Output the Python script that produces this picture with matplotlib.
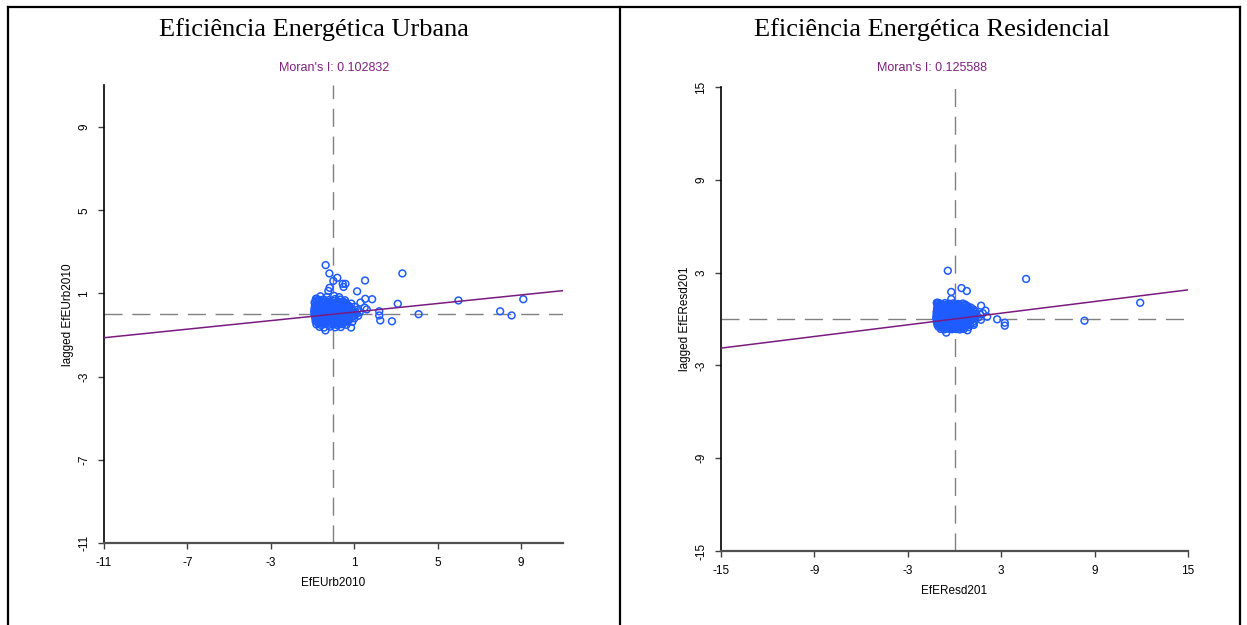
import matplotlib
matplotlib.use("Agg")
import matplotlib.pyplot as plt
from matplotlib.lines import Line2D

# ---- data ----
titles = ["Eficiência Energética Urbana", "Eficiência Energética Residencial"]
var_names = ["EfEUrb2010", "EfEResd201"]
moran_i = [0.102832, 0.125588]

urb_ticks = [-11, -7, -3, 1, 5, 9]
resd_ticks = [-15, -9, -3, 3, 9, 15]

# urban: dense cluster near the origin, row by row
urb_x = [-0.62, -0.31, 0.04, 0.28,
         -0.84, -0.68, -0.47, -0.21, 0.08, 0.33, 0.56,
         -0.78, -0.58, -0.4, -0.2, 0.02, 0.25, 0.48,
         -0.9, -0.66, -0.51, -0.29, -0.1, 0.16, 0.41, 0.61, 0.86,
         -0.8, -0.62, -0.45, -0.28, -0.09, 0.1, 0.3, 0.48, 0.66,
         -0.88, -0.73, -0.54, -0.37, -0.19, 0.01, 0.21, 0.39, 0.56, 0.76, 1.02,
         -0.83, -0.67, -0.5, -0.33, -0.15, 0.03, 0.22, 0.4, 0.58, 0.78,
         -0.91, -0.76, -0.59, -0.43, -0.24, -0.07, 0.13, 0.31, 0.49, 0.66, 0.91, 1.16,
         -0.85, -0.69, -0.52, -0.35, -0.18, -0.01, 0.16, 0.33, 0.5, 0.7, 0.95,
         -0.92, -0.77, -0.61, -0.45, -0.27, -0.11, 0.06, 0.23, 0.41, 0.58, 0.81, 1.04, 1.26,
         -0.84, -0.68, -0.53, -0.36, -0.19, 0.0, 0.18, 0.36, 0.55, 0.75, 1.1,
         -0.9, -0.74, -0.56, -0.39, -0.23, -0.04, 0.14, 0.33, 0.51, 0.71, 0.96, 1.19,
         -0.82, -0.64, -0.47, -0.3, -0.12, 0.06, 0.24, 0.44, 0.64, 0.88,
         -0.87, -0.71, -0.53, -0.34, -0.17, 0.01, 0.19, 0.37, 0.56, 0.79, 1.01,
         -0.78, -0.6, -0.42, -0.24, -0.05, 0.15, 0.33, 0.53, 0.76,
         -0.85, -0.67, -0.47, -0.29, -0.11, 0.07, 0.26, 0.46, 0.66, 0.91,
         -0.74, -0.53, -0.35, -0.15, 0.05, 0.25, 0.5,
         -0.81, -0.59, -0.41, -0.21, 0.01, 0.21, 0.43, 0.63,
         -0.66, -0.44, -0.16, 0.09, 0.36,
         # scattered points
         -0.37, -0.19, 0.19, 0.0, 0.45, 0.58, 0.49, 1.52, 3.31, 1.14, 1.53, 1.86,
         1.3, 3.09, 6.0, 9.11, 2.2, 2.2, 2.25, 2.81, 4.09, 8.0, 8.55, 1.5, 1.6,
         0.85, -0.38, -0.18, -0.24, -0.82, -0.82]
urb_y = [0.86, 0.83, 0.88, 0.82,
         0.72, 0.69, 0.71, 0.68, 0.73, 0.70, 0.67,
         0.63, 0.61, 0.62, 0.6, 0.64, 0.61, 0.6,
         0.56, 0.53, 0.57, 0.54, 0.55, 0.52, 0.57, 0.54, 0.51,
         0.48, 0.46, 0.47, 0.45, 0.49, 0.46, 0.47, 0.45, 0.46,
         0.41, 0.38, 0.42, 0.39, 0.4, 0.37, 0.42, 0.38, 0.41, 0.39, 0.36,
         0.33, 0.31, 0.32, 0.3, 0.34, 0.31, 0.32, 0.3, 0.33, 0.31,
         0.26, 0.23, 0.27, 0.24, 0.25, 0.22, 0.27, 0.24, 0.26, 0.23, 0.25, 0.21,
         0.18, 0.16, 0.17, 0.15, 0.19, 0.16, 0.17, 0.15, 0.18, 0.16, 0.17,
         0.11, 0.08, 0.12, 0.09, 0.1, 0.07, 0.12, 0.09, 0.11, 0.08, 0.1, 0.07, 0.09,
         0.03, 0.01, 0.02, 0.0, 0.04, 0.01, 0.02, 0.0, 0.03, 0.01, 0.02,
         -0.04, -0.07, -0.03, -0.06, -0.05, -0.08, -0.03, -0.06, -0.04, -0.07, -0.05, -0.08,
         -0.12, -0.14, -0.13, -0.15, -0.11, -0.14, -0.13, -0.15, -0.12, -0.14,
         -0.19, -0.22, -0.18, -0.21, -0.2, -0.23, -0.18, -0.21, -0.19, -0.22, -0.2,
         -0.27, -0.29, -0.28, -0.3, -0.26, -0.29, -0.28, -0.3, -0.27,
         -0.34, -0.37, -0.33, -0.36, -0.35, -0.38, -0.33, -0.36, -0.34, -0.37,
         -0.42, -0.44, -0.43, -0.45, -0.41, -0.44, -0.43,
         -0.49, -0.52, -0.48, -0.51, -0.5, -0.53, -0.48, -0.51,
         -0.61, -0.64, -0.6, -0.63, -0.62,
         2.36, 1.96, 1.75, 1.6, 1.46, 1.46, 1.31, 1.62, 1.96, 1.1, 0.74, 0.72,
         0.56, 0.5, 0.66, 0.72, 0.14, -0.06, -0.3, -0.34, 0.0, 0.14, -0.06, 0.32, 0.23,
         -0.64, -0.78, 1.27, 1.12, 0.75, 0.64]

# residential
resd_x = [-1.05, -0.88, -0.61, -0.34, -0.09, 0.21, 0.54,
          -0.98, -0.75, -0.52, -0.2, 0.05, 0.35, 0.7,
          -1.1, -0.86, -0.64, -0.44, -0.26, -0.04, 0.16, 0.36, 0.61, 0.84,
          -1.0, -0.8, -0.6, -0.4, -0.2, 0.0, 0.22, 0.45, 0.75, 1.05,
          -1.12, -0.94, -0.76, -0.54, -0.36, -0.14, 0.06, 0.26, 0.46, 0.71, 0.96, 1.21,
          -1.05, -0.86, -0.66, -0.46, -0.26, -0.06, 0.14, 0.34, 0.55, 0.8, 1.05, 1.28,
          -1.15, -0.97, -0.79, -0.57, -0.39, -0.17, 0.03, 0.23, 0.41, 0.63, 0.86, 1.11, 1.36,
          -1.06, -0.86, -0.66, -0.46, -0.26, -0.06, 0.14, 0.34, 0.55, 0.77, 1.02, 1.28,
          -1.16, -0.96, -0.74, -0.56, -0.34, -0.16, 0.06, 0.24, 0.46, 0.66, 0.89, 1.16, 1.41,
          -1.08, -0.88, -0.68, -0.48, -0.28, -0.08, 0.12, 0.32, 0.52, 0.72, 0.95, 1.2,
          -1.18, -0.99, -0.81, -0.59, -0.41, -0.21, 0.01, 0.19, 0.41, 0.61, 0.83, 1.06, 1.31,
          -1.06, -0.86, -0.66, -0.46, -0.26, -0.06, 0.14, 0.34, 0.55, 0.78, 1.1,
          -1.14, -0.94, -0.76, -0.54, -0.36, -0.14, 0.04, 0.26, 0.44, 0.69, 0.93, 1.19,
          -1.02, -0.82, -0.62, -0.42, -0.22, -0.02, 0.18, 0.38, 0.62, 0.88,
          -1.11, -0.93, -0.71, -0.53, -0.31, -0.13, 0.09, 0.27, 0.51, 0.74, 1.01, 1.24,
          -0.95, -0.74, -0.52, -0.32, -0.1, 0.1, 0.32, 0.55, 0.8,
          -1.04, -0.86, -0.61, -0.43, -0.21, 0.01, 0.19, 0.43, 0.64, 0.91,
          -0.75, -0.52, -0.28, -0.05, 0.22, 0.48,
          -0.89, -0.66, -0.39, -0.16, 0.11, 0.34, 0.61,
          # scattered points
          -0.43, 4.6, 0.45, 0.79, -0.21, 11.93, 8.35, 2.74, 3.23, 3.23, 1.71, 1.99,
          1.82, 2.1, 0.83, -0.53, -1.14, -0.21, -1.07, -0.9, 1.65, 1.55, 1.7, 1.24]
resd_y = [1.02, 0.98, 1.03, 0.99, 1.01, 0.97, 1.0,
          0.94, 0.92, 0.93, 0.91, 0.95, 0.92, 0.93,
          0.86, 0.83, 0.87, 0.84, 0.85, 0.82, 0.87, 0.84, 0.86, 0.83,
          0.76, 0.74, 0.75, 0.73, 0.77, 0.74, 0.75, 0.73, 0.76, 0.74,
          0.66, 0.63, 0.67, 0.64, 0.65, 0.62, 0.67, 0.64, 0.66, 0.63, 0.65, 0.62,
          0.56, 0.54, 0.55, 0.53, 0.57, 0.54, 0.55, 0.53, 0.56, 0.54, 0.55, 0.53,
          0.46, 0.43, 0.47, 0.44, 0.45, 0.42, 0.47, 0.44, 0.46, 0.43, 0.45, 0.42, 0.44,
          0.36, 0.34, 0.35, 0.33, 0.37, 0.34, 0.35, 0.33, 0.36, 0.34, 0.35, 0.33,
          0.26, 0.23, 0.27, 0.24, 0.25, 0.22, 0.27, 0.24, 0.26, 0.23, 0.25, 0.22, 0.24,
          0.16, 0.14, 0.15, 0.13, 0.17, 0.14, 0.15, 0.13, 0.16, 0.14, 0.15, 0.13,
          0.06, 0.03, 0.07, 0.04, 0.05, 0.02, 0.07, 0.04, 0.06, 0.03, 0.05, 0.02, 0.04,
          -0.04, -0.06, -0.05, -0.07, -0.03, -0.06, -0.05, -0.07, -0.04, -0.06, -0.05,
          -0.14, -0.17, -0.13, -0.16, -0.15, -0.18, -0.13, -0.16, -0.14, -0.17, -0.15, -0.18,
          -0.24, -0.26, -0.25, -0.27, -0.23, -0.26, -0.25, -0.27, -0.24, -0.26,
          -0.34, -0.37, -0.33, -0.36, -0.35, -0.38, -0.33, -0.36, -0.34, -0.37, -0.35, -0.38,
          -0.42, -0.44, -0.43, -0.45, -0.41, -0.44, -0.43, -0.45, -0.42,
          -0.49, -0.52, -0.48, -0.51, -0.5, -0.53, -0.48, -0.51, -0.49, -0.52,
          -0.57, -0.59, -0.58, -0.6, -0.56, -0.59,
          -0.64, -0.67, -0.63, -0.66, -0.65, -0.68, -0.64,
          3.12, 2.59, 2.0, 1.81, 1.75, 1.05, -0.11, -0.02, -0.24, -0.43, 0.86, 0.54,
          0.37, 0.15, -0.73, -0.88, 1.05, 1.29, 1.05, 0.97, 0.3, 0.1, -0.05, -0.28]

# ---- drawing ----
W, H = 1247, 625
fig = plt.figure(figsize=(W / 100, H / 100), dpi=100)
fig.patch.set_facecolor("white")

sans = "Liberation Sans"
serif = "Liberation Serif"

# table borders
for x in [8, 620, 1240]:
    fig.add_artist(Line2D([x / W, x / W], [0, 1 - 7 / H], color="black", lw=1.6))
fig.add_artist(Line2D([8 / W, 1240 / W], [1 - 7 / H, 1 - 7 / H], color="black", lw=1.6))

# axes boxes in pixels: left, bottom(y of axis), width, height
boxes = [(104, 543, 458.7, 457.6), (721, 551, 467, 464)]
lims = [(-11, 11), (-15, 15)]
ticks = [urb_ticks, resd_ticks]
xs = [urb_x, resd_x]
ys = [urb_y, resd_y]
title_x = [314, 932]
moran_x = [334, 932]

for i in range(2):
    l, b, w, h = boxes[i]
    ax = fig.add_axes([l / W, 1 - b / H, w / W, h / H])
    lo, hi = lims[i]
    ax.set_xlim(lo, hi)
    ax.set_ylim(lo, hi)

    ax.axvline(0, color="#808080", lw=1.0, dashes=(13, 7), zorder=1)
    ax.axhline(0, color="#808080", lw=1.0, dashes=(13, 7), zorder=1)

    ax.scatter(xs[i], ys[i], s=24, facecolors="none", edgecolors="#1f5cff",
               linewidths=1.1, zorder=2, clip_on=False)
    ax.plot([lo, hi], [moran_i[i] * lo, moran_i[i] * hi], color="#7a1a80",
            lw=1.1, zorder=3)

    for s in ["top", "right"]:
        ax.spines[s].set_visible(False)
    ax.spines["left"].set_color("black")
    ax.spines["bottom"].set_color("#505050")
    ax.spines["left"].set_linewidth(1.2)
    ax.spines["bottom"].set_linewidth(1.6)

    ax.set_xticks(ticks[i])
    ax.set_yticks(ticks[i])
    ax.set_xticklabels([str(t) for t in ticks[i]], fontsize=8.5, family=sans)
    ax.set_yticklabels([str(t) for t in ticks[i]], fontsize=8.5, family=sans,
                       rotation=90, va="center")
    ax.tick_params(length=4, width=1, pad=6, color="#404040")

    ax.set_xlabel(var_names[i], fontsize=8.5, family=sans, labelpad=6)
    ax.set_ylabel("lagged " + var_names[i], fontsize=8.5, family=sans, labelpad=3)

    fig.text(title_x[i] / W, 1 - 36 / H, titles[i], ha="center", va="baseline",
             fontsize=19, family=serif)
    fig.text(moran_x[i] / W, 1 - 68 / H,
             "Moran's I: %.6f" % moran_i[i], ha="center", va="center",
             fontsize=9, family=sans, color="#802080")

fig.savefig("out.png", dpi=100)
